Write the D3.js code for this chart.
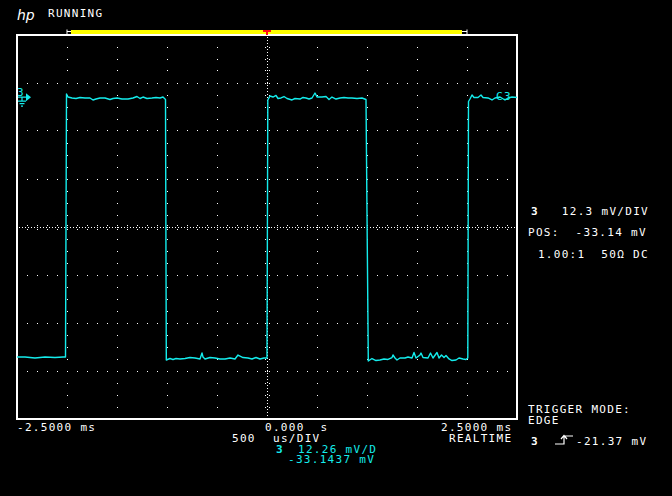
<!DOCTYPE html>
<html>
<head>
<meta charset="utf-8">
<script src="https://cdn.jsdelivr.net/npm/d3@7"></script>
<style>
  html, body { margin: 0; padding: 0; background: #000; }
  svg { display: block; }
  text { font-family: "DejaVu Sans Mono", monospace; font-size: 11px; letter-spacing: 1.3px; white-space: pre; }
</style>
</head>
<body>
<div id="chart"></div>
<script>
// channel 3 trace, time in ms, level in mV
const timeMs = [
  -2.50, -2.42, -2.32, -2.22, -2.12, -2.04, -2.015,
  -2.005, -1.99, -1.95, -1.91, -1.87, -1.82, -1.77, -1.74, -1.71, -1.67, -1.62, -1.57, -1.54,
  -1.50, -1.45, -1.39, -1.34, -1.30, -1.27, -1.24, -1.20, -1.15, -1.11, -1.07, -1.04, -1.015,
  -1.007, -0.97, -0.94, -0.91, -0.87, -0.82, -0.77, -0.72, -0.67, -0.65, -0.64, -0.62, -0.57,
  -0.52, -0.47, -0.42, -0.37, -0.32, -0.29, -0.24, -0.19, -0.15, -0.11, -0.07, -0.03, 0.00,
  0.008, 0.03, 0.06, 0.09, 0.11, 0.14, 0.17, 0.20, 0.25, 0.28, 0.33, 0.36, 0.39, 0.42, 0.45,
  0.48, 0.50, 0.55, 0.59, 0.62, 0.65, 0.69, 0.73, 0.77, 0.81, 0.85, 0.90, 0.95, 0.99,
  1.013, 1.05, 1.09, 1.13, 1.17, 1.21, 1.25, 1.26, 1.28, 1.30, 1.33, 1.38, 1.41, 1.45, 1.47,
  1.49, 1.53, 1.54, 1.56, 1.61, 1.635, 1.66, 1.70, 1.72, 1.745, 1.77, 1.79, 1.82, 1.85, 1.89,
  1.92, 1.96, 1.99, 2.008,
  2.015, 2.03, 2.05, 2.07, 2.11, 2.14, 2.16, 2.21, 2.25, 2.28, 2.33, 2.38, 2.41, 2.45, 2.50
];
const levelMv = [
  -66.58, -66.58, -66.84, -66.58, -66.71, -66.58, -66.58,
  0.81, 0.04, -0.21, -0.34, -0.08, -0.21, -0.21, -0.72, -0.47, -0.21, -0.21, -0.60, -0.34,
  -0.21, -0.47, -0.47, -0.21, 0.17, -0.34, 0.04, -0.34, -0.21, -0.08, -0.21, 0.04, -0.60,
  -67.35, -66.97, -67.22, -66.97, -67.09, -66.97, -66.71, -66.84, -67.09, -65.56, -66.58, -67.09, -66.71,
  -66.84, -67.09, -67.09, -66.84, -67.09, -66.07, -66.71, -66.84, -67.09, -66.71, -67.09, -66.84, -66.84,
  -0.72, 0.30, 0.04, 0.43, -0.34, -0.21, 0.17, -0.34, -0.72, -0.34, -0.47, -0.08, -0.21, -0.47, -0.21,
  1.07, 0.04, 0.04, 0.17, -0.60, 0.04, -0.47, -0.21, -0.08, -0.21, -0.21, -0.34, -0.21, -0.60,
  -67.61, -66.97, -67.48, -67.35, -67.09, -67.22, -66.71, -66.07, -66.84, -67.35, -66.84, -66.84, -66.58, -66.84, -65.43,
  -66.84, -66.07, -65.56, -66.71, -66.84, -65.56, -66.84, -65.43, -66.84, -66.07, -66.71, -66.20, -67.09, -67.48, -67.35,
  -66.84, -67.09, -67.22, -66.84,
  -1.11, -0.47, 0.56, -0.08, -0.08, 0.56, -0.08, -0.21, -0.72, -0.21, 0.04, -0.72, -0.21, 0.04, -0.08
];

// scope settings
const timeRange = [-2.5, 2.5];     // ms, 10 divisions
const voltsPerDiv = 12.3;          // mV
const offsetMv = -33.14;           // centre of screen
const triggerMv = -21.37;

const rightPanel = ["3", "  12.3 mV/DIV", "POS:  -33.14 mV", " 1.00:1  50\u03A9 DC"];

const W = 672, H = 496;
const plotL = 17, plotR = 517, plotT = 34.5, plotB = 418.5;
const cyan = "#14ecec";

const svg = d3.select("#chart").append("svg")
    .attr("width", W).attr("height", H)
    .style("background", "#000");

const x = d3.scaleLinear().domain(timeRange).range([plotL, plotR]);
const y = d3.scaleLinear()
    .domain([offsetMv - 4 * voltsPerDiv, offsetMv + 4 * voltsPerDiv])
    .range([plotB, plotT]);

// grid dots
const grid = svg.append("g").attr("fill", "#fff").attr("shape-rendering", "crispEdges");
const dot = (px, py) => grid.append("rect")
    .attr("x", Math.round(px)).attr("y", Math.round(py))
    .attr("width", 1).attr("height", 1);

for (let k = 1; k < 8; k++) {
    if (k === 4) continue;
    const yy = y(offsetMv - 4 * voltsPerDiv + k * voltsPerDiv);
    for (let i = 1; i < 50; i++) dot(x(timeRange[0] + i * 0.1), yy);
}
for (let k = 1; k < 10; k++) {
    if (k === 5) continue;
    const xx = x(timeRange[0] + k * 0.5);
    for (let j = 1; j < 32; j++) dot(xx, y(offsetMv - 4 * voltsPerDiv + j * voltsPerDiv / 4));
}
// centre lines
const cx = x(0), cy = y(offsetMv);
for (let py = plotT + 2; py < plotB; py += 3) dot(cx, py);
for (let px = plotL + 2; px < plotR; px += 3) dot(px, cy);
for (let j = 1; j < 32; j++) {
    const py = y(offsetMv - 4 * voltsPerDiv + j * voltsPerDiv / 4);
    dot(cx - 2, py); dot(cx + 2, py);
}
for (let i = 1; i < 50; i++) {
    const px = x(timeRange[0] + i * 0.1);
    dot(px, cy - 2); dot(px, cy + 2);
}

// frame
svg.append("rect")
    .attr("x", plotL).attr("y", Math.round(plotT)).attr("width", plotR - plotL).attr("height", Math.round(plotB) - Math.round(plotT))
    .attr("fill", "none").attr("stroke", "#fff").attr("stroke-width", 1.2)
    .attr("shape-rendering", "crispEdges");

// record bar with trigger marker
svg.append("rect").attr("x", x(-1.96)).attr("y", 30).attr("width", x(1.95) - x(-1.96)).attr("height", 4)
    .attr("fill", "#ffff00");
svg.append("path")
    .attr("d", `M${x(-2)},29.5V34.5M${x(-2)},31.5H${x(-1.96)}M${x(2)},29.5V34.5M${x(1.95)},31.5H${x(2)}`)
    .attr("stroke", "#fff").attr("fill", "none");
svg.append("path")
    .attr("d", `M${x(0) - 4},30H${x(0) + 4}V32H${x(0) + 1}V35H${x(0) - 1}V32H${x(0) - 4}Z`)
    .attr("fill", "#ff1010");

// trace
svg.append("path")
    .datum(timeMs.map((t, i) => [t, levelMv[i]]))
    .attr("fill", "none")
    .attr("stroke", cyan)
    .attr("stroke-width", 1.4)
    .attr("stroke-linejoin", "round")
    .attr("d", d3.line().x(d => x(d[0])).y(d => y(d[1])));

// ground marker for channel 3
const gy = y(0);
svg.append("text").attr("x", 17).attr("y", gy - 1).attr("fill", cyan)
    .style("letter-spacing", "0px").text("3");
svg.append("path")
    .attr("d", `M18,${gy}H27M22,${gy}V${gy + 4}M18,${gy + 4}H26M19.5,${gy + 6.5}H24.5M21,${gy + 9}H23`)
    .attr("stroke", cyan).attr("fill", "none").attr("stroke-width", 1.2);
svg.append("path")
    .attr("d", `M26,${gy - 4}L31,${gy}L26,${gy + 4}Z`).attr("fill", cyan);
svg.append("text").attr("x", 496).attr("y", 100).attr("fill", cyan).text("C3");

// header
svg.append("text").attr("x", 17).attr("y", 20).attr("fill", "#fff")
    .style("font-family", "DejaVu Sans").style("font-style", "italic").style("font-size", "14px")
    .style("letter-spacing", "0px").style("font-weight", "300").text("hp");
svg.append("text").attr("x", 48).attr("y", 17).attr("fill", "#fff").text("RUNNING");

// right panel
svg.append("text").attr("x", 531).attr("y", 215).attr("fill", "#fff").style("font-weight", "bold").text(rightPanel[0]);
svg.append("text").attr("x", 546).attr("y", 215).attr("fill", "#fff").text(rightPanel[1]);
svg.append("text").attr("x", 528).attr("y", 236).attr("fill", "#fff").text(rightPanel[2]);
svg.append("text").attr("x", 530).attr("y", 258).attr("fill", "#fff").text(rightPanel[3]);

svg.append("text").attr("x", 528).attr("y", 413).attr("fill", "#fff").text("TRIGGER MODE:");
svg.append("text").attr("x", 528).attr("y", 424).attr("fill", "#fff").text("EDGE");
svg.append("text").attr("x", 531).attr("y", 445).attr("fill", "#fff").style("font-weight", "bold").text("3");
svg.append("path")
    .attr("d", "M555,444H564V436H573M561,439L564,435.5L567,439")
    .attr("stroke", "#fff").attr("fill", "none").attr("stroke-width", 1.2);
svg.append("text").attr("x", 576).attr("y", 445).attr("fill", "#fff").text(triggerMv.toFixed(2) + " mV");

// time labels
svg.append("text").attr("x", 17).attr("y", 431).attr("fill", "#fff").text(timeRange[0].toFixed(4) + " ms");
svg.append("text").attr("x", 265).attr("y", 431).attr("fill", "#fff").text("0.000  s");
svg.append("text").attr("x", 441).attr("y", 431).attr("fill", "#fff").text(timeRange[1].toFixed(4) + " ms");
svg.append("text").attr("x", 232).attr("y", 442).attr("fill", "#fff").text("500");
svg.append("text").attr("x", 273).attr("y", 442).attr("fill", "#fff").text("us/DIV");
svg.append("text").attr("x", 449).attr("y", 442).attr("fill", "#fff").text("REALTIME");
svg.append("text").attr("x", 276).attr("y", 453).attr("fill", cyan).style("font-weight", "bold").text("3");
svg.append("text").attr("x", 298).attr("y", 453).attr("fill", cyan).text("12.26 mV/D");
svg.append("text").attr("x", 288).attr("y", 463).attr("fill", cyan).text("-33.1437 mV");
</script>
</body>
</html>
